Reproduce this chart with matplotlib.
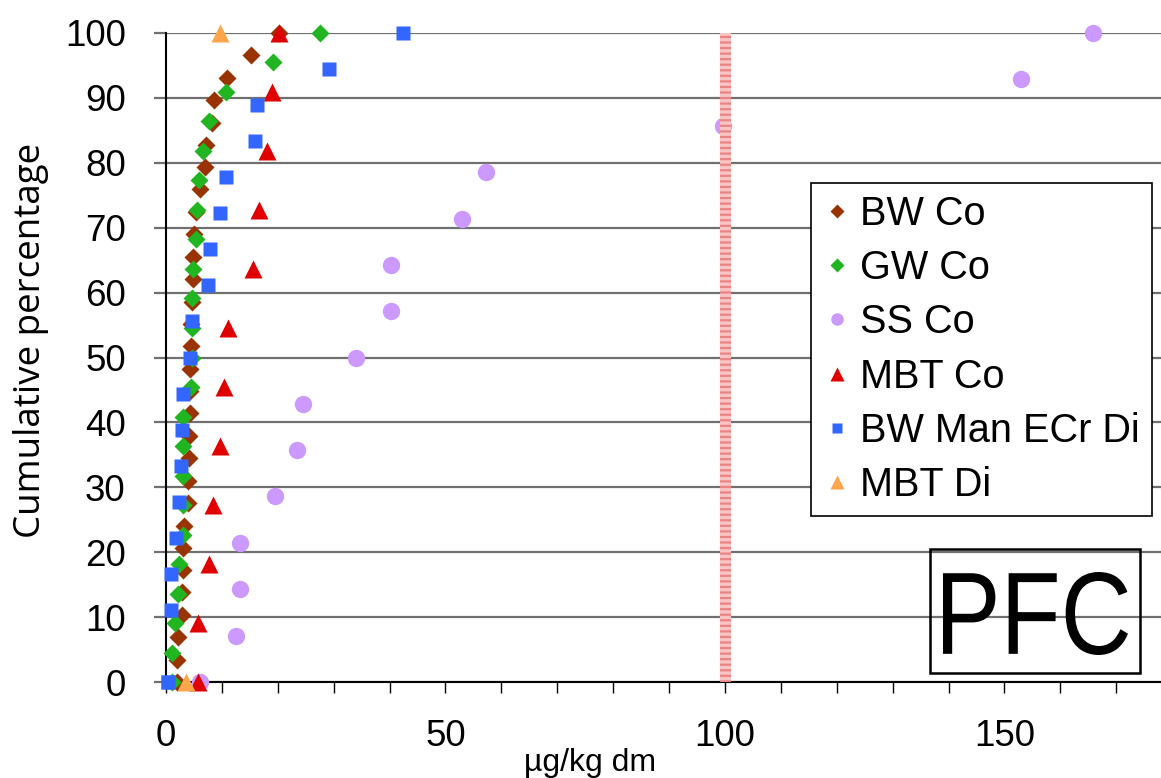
import matplotlib
matplotlib.use("Agg")
import matplotlib.pyplot as plt
from matplotlib.patches import Rectangle, PathPatch
from matplotlib.textpath import TextPath
from matplotlib.font_manager import FontProperties
from matplotlib.transforms import Affine2D
from matplotlib.ticker import MultipleLocator

plt.rcParams['font.family'] = ['Liberation Sans', 'DejaVu Sans']

# values (µg/kg dm vs cumulative %)
bw_co_x = [1.9, 1.9, 2.1, 2.9, 2.9, 3.0, 3.1, 3.2, 3.9, 4.0, 4.1, 4.2, 4.3, 4.3, 4.3,
           4.4, 4.4, 4.6, 4.8, 4.9, 5.0, 5.3, 6.1, 7.0, 7.2, 8.2, 8.6, 10.9, 15.2, 20.2]
bw_co_y = [0, 3.4, 6.9, 10.3, 13.8, 17.2, 20.7, 24.1, 27.6, 31.0, 34.5, 37.9, 41.4, 44.8, 48.3,
           51.7, 55.2, 58.6, 62.1, 65.5, 69.0, 72.4, 75.9, 79.3, 82.8, 86.2, 89.7, 93.1, 96.6, 100]

gw_co_x = [1.1, 1.1, 1.6, 2.2, 2.4, 3.0, 3.0, 3.1, 3.1, 3.1, 4.4, 4.6, 4.6, 4.7, 4.9,
           5.4, 5.5, 5.9, 6.6, 7.7, 10.7, 19.1, 27.5]
gw_co_y = [0, 4.5, 9.1, 13.6, 18.2, 22.7, 27.3, 31.8, 36.4, 40.9, 45.5, 50.0, 54.5, 59.1, 63.6,
           68.2, 72.7, 77.3, 81.8, 86.4, 90.9, 95.5, 100]

ss_co_x = [6.0, 12.5, 13.2, 13.2, 19.5, 23.4, 24.5, 34.0, 40.3, 40.3, 53.0, 57.2, 99.6, 153.0, 165.8]
ss_co_y = [0, 7.1, 14.3, 21.4, 28.6, 35.7, 42.9, 50.0, 57.1, 64.3, 71.4, 78.6, 85.7, 92.9, 100]

mbt_co_x = [5.7, 5.7, 7.7, 8.4, 9.7, 10.4, 11.1, 15.6, 16.6, 18.1, 19.0, 20.2]
mbt_co_y = [0, 9.1, 18.2, 27.3, 36.4, 45.5, 54.5, 63.6, 72.7, 81.8, 90.9, 100]

bw_man_x = [0.3, 0.3, 0.9, 0.9, 1.8, 2.3, 2.6, 2.8, 3.1, 4.3, 4.7, 7.5, 7.9, 9.6, 10.7,
            16.0, 16.3, 29.2, 42.4]
bw_man_y = [0, 0, 11.1, 16.7, 22.2, 27.8, 33.3, 38.9, 44.4, 50.0, 55.6, 61.1, 66.7, 72.2, 77.8,
            83.3, 88.9, 94.4, 100]

mbt_di_x = [3.6, 9.6]
mbt_di_y = [0, 100]

limit_value = 100

fig = plt.figure(figsize=(11.61, 7.78), dpi=100)
ax = fig.add_axes([166/1161, 1 - 682/778, 995/1161, 649/778])

# limit line at 100 (pink with red dots, like the excel pattern fill)
ax.axvline(limit_value, color='#f8c4c4', lw=8, zorder=5)
ax.axvline(limit_value, color='#e05050', lw=8, ls=(0, (0.2, 0.3)), alpha=0.55, zorder=5)

ax.plot(bw_co_x, bw_co_y, 'D', color='#993300', ms=9.5, mec='none', label='BW Co', clip_on=False, zorder=3)
ax.plot(gw_co_x, gw_co_y, 'D', color='#22b522', ms=9.5, mec='none', label='GW Co', clip_on=False, zorder=3)
ax.plot(ss_co_x, ss_co_y, 'o', color='#cc99ff', ms=12.5, mec='none', label='SS Co', clip_on=False, zorder=3)
ax.plot(mbt_co_x, mbt_co_y, '^', color='#e00000', ms=13.5, mec='none', label='MBT Co', clip_on=False, zorder=3)
ax.plot(bw_man_x, bw_man_y, 's', color='#3366ff', ms=10.5, mec='none', label='BW Man ECr Di', clip_on=False, zorder=3)
ax.plot(mbt_di_x, mbt_di_y, '^', color='#ffa64d', ms=13.5, mec='none', label='MBT Di', clip_on=False, zorder=3)

ax.set_xlim(0, 178)
ax.set_ylim(0, 100)
ax.set_yticks(range(0, 101, 10))
ax.xaxis.set_major_locator(MultipleLocator(50))
ax.xaxis.set_minor_locator(MultipleLocator(10))
ax.grid(axis='y', color='#707070', lw=1.6, zorder=1)
ax.set_axisbelow(True)

for s in ['top', 'right']:
    ax.spines[s].set_visible(False)
ax.spines['left'].set_linewidth(1.5)
ax.spines['bottom'].set_linewidth(1.5)

ax.tick_params(axis='y', length=9, width=1.6, color='#707070', pad=20, labelsize=26.5)
ax.tick_params(axis='x', which='both', length=8, width=1.0, color='black', direction='out')
ax.tick_params(axis='x', which='major', pad=19, labelsize=26.5)

fig.text(31/1161, 1 - 340/778, 'Cumulative percentage', rotation=90, ha='center', va='center',
         fontsize=26.5, family=['Open Sans', 'DejaVu Sans'])
fig.text(590/1161, 1 - 771/778, 'µg/kg dm', ha='center', va='baseline', fontsize=23)

leg = ax.legend(loc='upper right', bbox_to_anchor=(1152/1161, 1 - 183/778), bbox_transform=fig.transFigure,
                fontsize=28.5, frameon=True, fancybox=False, framealpha=1, edgecolor='black',
                borderaxespad=0, markerscale=0.72, handlelength=0.7, handletextpad=0.25,
                labelspacing=0.41, borderpad=0.3)
leg.get_frame().set_linewidth(1.2)

# PFC label box; the text is a condensed font, so stretch a text path into the box
fig.patches.append(Rectangle((930/1161, 1 - 673/778), 210/1161, 124/778, transform=fig.transFigure,
                             fill=False, edgecolor='black', lw=1.8, zorder=10))
tp = TextPath((0, 0), 'PFC', size=100, prop=FontProperties(family='Liberation Sans'))
bb = tp.get_extents()
W, H = 1161, 778
tr = (Affine2D().translate(-bb.x0, -bb.y0)
      .scale((1128 - 943) / W / bb.width, (655 - 572) / H / bb.height)
      .translate(943 / W, 1 - 655 / H)) + fig.transFigure
fig.patches.append(PathPatch(tp, transform=tr, facecolor='black', edgecolor='none', zorder=11))

plt.savefig('out.png', dpi=100)
